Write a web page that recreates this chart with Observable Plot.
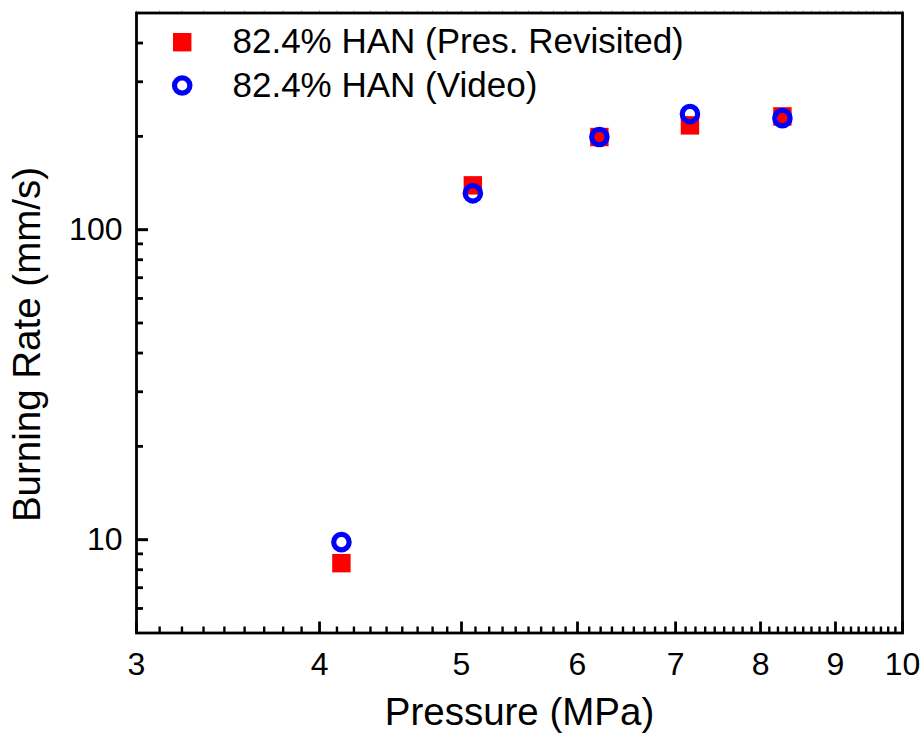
<!DOCTYPE html>
<html><head><meta charset="utf-8">
<script src="https://cdn.jsdelivr.net/npm/d3@7"></script>
<script src="https://cdn.jsdelivr.net/npm/@observablehq/plot@0.6"></script>
<style>body{margin:0;background:#fff} svg{display:block}</style>
</head><body><div id="chart"></div>
<script>
const seriesNames = ["82.4% HAN (Pres. Revisited)", "82.4% HAN (Video)"];
const presRevisitedP = [4.14, 5.09, 6.21, 7.16, 8.28];
const presRevisitedRate = [8.4, 139, 199, 217, 232];
const videoP = [4.14, 5.09, 6.21, 7.16, 8.28];
const videoRate = [9.82, 131, 199, 236, 229];
const xTickLabels = [3, 4, 5, 6, 7, 8, 9, 10];
const yTickLabels = [10, 100];
const yMinorTicks = [6, 7, 8, 9, 20, 30, 40, 50, 60, 70, 80, 90, 200, 300, 400];
const xMinorTicks = [];
for (let i = 3; i < 10; i++) for (let k = 1; k <= 8; k++) xMinorTicks.push(i + k / 9);

const squares = presRevisitedP.map((p, i) => ({p, r: presRevisitedRate[i]}));
const circles = videoP.map((p, i) => ({p, r: videoRate[i]}));

const W = 924, H = 745, ML = 136, MR = 22, MT = 12.5, MB = 112.5;
const FW = W - ML - MR, FH = H - MT - MB;
const font = "'Liberation Sans', Arial, sans-serif";

const chart = Plot.plot({
  width: W, height: H,
  marginLeft: ML, marginRight: MR, marginTop: MT, marginBottom: MB,
  style: {fontFamily: font, background: "#fff", color: "#000"},
  x: {type: "log", domain: [3, 10]},
  y: {type: "log", domain: [5, 500]},
  marks: [
    Plot.ruleX([...xTickLabels, ...xMinorTicks], {x: d => d, stroke: "#aaa", strokeWidth: 1, insetTop: -2, insetBottom: FH}),
    Plot.ruleX(xTickLabels, {x: d => d, stroke: "#000", strokeWidth: 2.8, insetTop: FH - 11}),
    Plot.ruleX(xMinorTicks, {x: d => d, stroke: "#000", strokeWidth: 2.4, insetTop: FH - 6}),
    Plot.ruleY(yTickLabels, {y: d => d, stroke: "#000", strokeWidth: 3, insetRight: FW - 12}),
    Plot.ruleY(yMinorTicks, {y: d => d, stroke: "#000", strokeWidth: 2.8, insetRight: FW - 7}),
    Plot.axisX(xTickLabels, {tickSize: 0, tickPadding: 19, fontSize: 32, label: null, tickFormat: d => String(d)}),
    Plot.axisY(yTickLabels, {tickSize: 0, tickPadding: 14, fontSize: 32, label: null, tickFormat: d => String(d)}),
    Plot.frame({stroke: "#000", strokeWidth: 2.8}),
    Plot.dot(squares, {x: "p", y: "r", symbol: "square", fill: "#ff0000", r: 10.4}),
    Plot.dot(circles, {x: "p", y: "r", symbol: "circle", fill: "none", stroke: "#0000ff", strokeWidth: 5.2, r: 7.7}),
    Plot.dot([seriesNames[0]], {frameAnchor: "top-left", dx: 45.7, dy: 29.2, symbol: "square", fill: "#ff0000", r: 10.4}),
    Plot.dot([seriesNames[1]], {frameAnchor: "top-left", dx: 45.7, dy: 72.5, symbol: "circle", fill: "none", stroke: "#0000ff", strokeWidth: 5.2, r: 7.7}),
    Plot.text([seriesNames[0]], {text: d => d, frameAnchor: "top-left", dx: 96, dy: 28.5, textAnchor: "start", lineAnchor: "middle", fontSize: 35, fill: "#000"}),
    Plot.text([seriesNames[1]], {text: d => d, frameAnchor: "top-left", dx: 96, dy: 72.5, textAnchor: "start", lineAnchor: "middle", fontSize: 35, fill: "#000"}),
    Plot.text(["Pressure (MPa)"], {text: d => d, frameAnchor: "bottom", dx: 0, dy: 79.5, textAnchor: "middle", lineAnchor: "middle", fontSize: 38.5, fill: "#000"}),
    Plot.text(["Burning Rate (mm/s)"], {text: d => d, frameAnchor: "left", rotate: -90, dx: -108.5, dy: 21.5, textAnchor: "middle", lineAnchor: "middle", fontSize: 38.5, fill: "#000"})
  ]
});
document.getElementById("chart").appendChild(chart);
</script>
</body></html>
